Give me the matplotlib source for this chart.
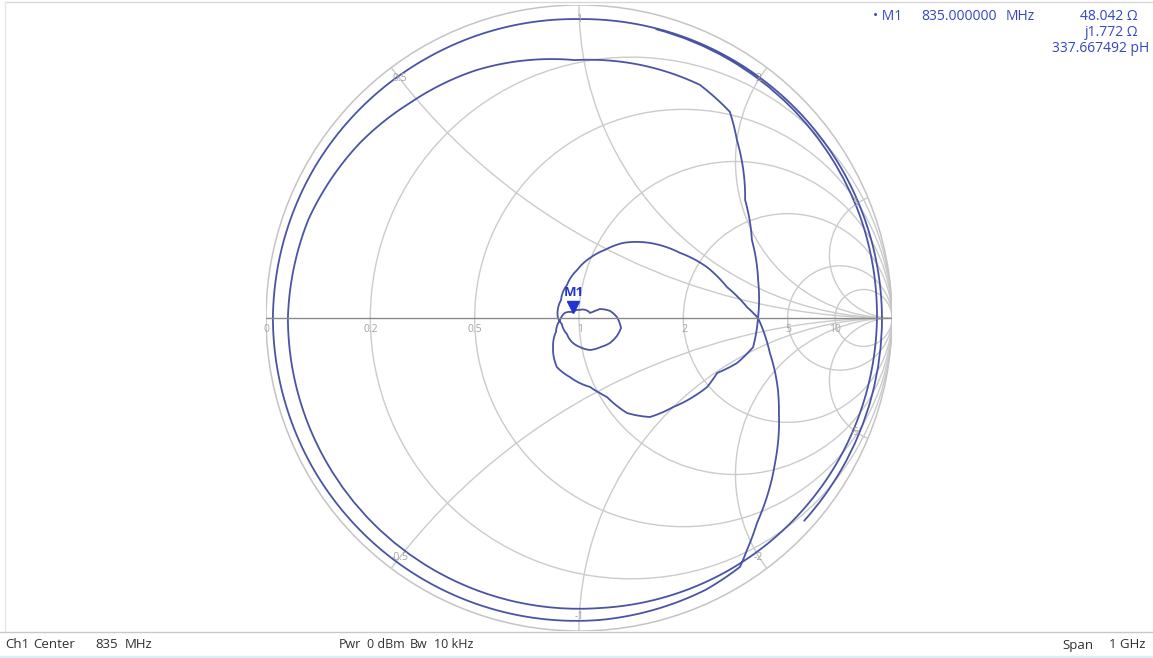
import numpy as np
import matplotlib
matplotlib.use("Agg")
import matplotlib.pyplot as plt
from matplotlib.patches import Circle, PathPatch
from matplotlib.path import Path
from matplotlib.transforms import ScaledTranslation
from matplotlib.projections.polar import PolarTransform

# ---- S11 trace, polar format (|Gamma|, phase in degrees), 335 MHz .. 1335 MHz ----
trace_mag = [
    0.955, 0.955, 0.955, 0.952, 0.945, 0.937, 0.929, 0.929, 0.929, 0.930,
    0.920, 0.896, 0.874, 0.857, 0.824, 0.832, 0.839, 0.816, 0.760, 0.651,
    0.606, 0.585, 0.572,
    0.564, 0.525, 0.475, 0.465, 0.443, 0.414, 0.389, 0.340, 0.268, 0.249,
    0.223, 0.191, 0.172, 0.124, 0.086, 0.061,
    0.048, 0.027, 0.026, 0.039, 0.073, 0.102, 0.121, 0.138, 0.134, 0.127,
    0.116, 0.108, 0.093, 0.080, 0.064, 0.058, 0.067,
    0.074, 0.081, 0.112, 0.153, 0.195, 0.233, 0.278, 0.330, 0.384, 0.440,
    0.483, 0.538, 0.572,
    0.620, 0.676, 0.707, 0.779, 0.829, 0.867, 0.915, 0.947,
    0.958, 0.967, 0.972, 0.976, 0.978, 0.972, 0.962, 0.955, 0.960, 0.965,
    0.968, 0.968, 0.968,
]
trace_phase = [
    75.0, 45.0, 20.0, 0.0, -30.0, -60.0, -86.0, -120.0, -150.0, 180.0,
    160.0, 141.4, 128.2, 112.4, 90.9, 76.4, 62.6, 53.8, 48.4, 35.4,
    24.3, 12.0, 0.0,
    -9.5, -15.9, -21.7, -28.3, -34.7, -43.4, -54.4, -63.2, -70.5, -74.4,
    -80.9, -98.7, -114.2, -131.9, -148.7, -174.0,
    160.3, 137.0, 82.9, 24.4, 23.2, 12.7, 1.5, -13.4, -25.3, -38.9,
    -52.8, -71.0, -88.0, -106.3, -126.9, -160.6, 180.0,
    154.5, 135.0, 110.0, 92.4, 79.6, 69.1, 59.6, 46.6, 32.8, 21.7,
    11.8, 3.7, 0.0,
    -10.4, -19.9, -25.4, -36.5, -43.6, -49.0, -54.1, -57.1,
    -65.0, -86.0, -120.0, -150.0, 180.0, 150.0, 120.0, 90.0, 60.0, 30.0,
    0.0, -30.0, -42.0,
]

# Smith grid values
resistances = [0.2, 0.5, 1, 2, 5, 10]
reactances = [0.5, 1, 2, 5]
r_labels = ["0", "0.2", "0.5", "1", "2", "5", "10"]
x_labels = ["0.5", "1", "2", "5"]

# Marker readout
z0 = 50.0
m1_freq = "835.000000"
m1_res = 48.042
m1_react = 1.772
m1_ind = "337.667492"

# status bar
center_freq = "835"
power = "0 dBm"
bandwidth = "10 kHz"
span = "1 GHz"

TRACE = "#4a54a4"
GRID = "#cbcbcb"
GRID_TXT = "#a5a5a5"
BLUE_TXT = "#3446c0"
MARK = "#2233d0"
plt.rcParams["font.family"] = ["Open Sans", "DejaVu Sans"]

W, H = 1153, 658
fig = plt.figure(figsize=(W / 100, H / 100), dpi=100)
fig.patch.set_facecolor("white")

# pixel-space layer for frame and status text
bg = fig.add_axes([0, 0, 1, 1])
bg.set_xlim(0, W)
bg.set_ylim(H, 0)
bg.axis("off")
bg.plot([5, W], [1.5, 1.5], color="#d8d8d8", lw=1.0)
bg.plot([5, 5], [1.5, 632], color="#e6e6e6", lw=1.0)
bg.plot([0, W], [632, 632], color="#c8c8c8", lw=1.0)
bg.plot([0, W], [656.5, 656.5], color="#d6f2f8", lw=2.5)

st = dict(fontsize=9.5, color="#303030", va="center", ha="left")
sm = dict(fontsize=9, color="#303030", va="center", ha="left")
bg.text(5, 645, "Ch1", **st)
bg.text(33, 645, "Center", **st)
bg.text(95, 645, center_freq, **st)
bg.text(125, 645, "MHz", **st)
bg.text(339, 645, "Pwr", **sm)
bg.text(367, 645, power, **sm)
bg.text(410, 645, "Bw", **sm)
bg.text(434, 645, bandwidth, **sm)
bg.text(1062, 645, "Span", **st)
bg.text(1109, 645, span, **st)

mt = dict(fontsize=10, color=BLUE_TXT, va="center")
bg.text(873, 16, "\u2022 M1", ha="left", **mt)
bg.text(921, 16, m1_freq, ha="left", **mt)
bg.text(1006, 16, "MHz", ha="left", **mt)
bg.text(1138, 16, f"{m1_res:.3f} \u03a9", ha="right", **mt)
bg.text(1138, 32, f"j{m1_react:.3f} \u03a9", ha="right", **mt)
bg.text(1149, 49, f"{m1_ind} pH", ha="right", **mt)

# Smith chart axes, Gamma plane
cx, cy, R = 579, 318, 313
ax = fig.add_axes([(cx - R) / W, (H - (cy + R)) / H, 2 * R / W, 2 * R / H])
ax.axis("off")

unit = Circle((0, 0), 1, transform=ax.transData)
for r in resistances:
    ax.add_patch(Circle((r / (1 + r), 0), 1 / (1 + r), fill=False,
                        ec=GRID, lw=1.0))
for x in reactances:
    for s in (1, -1):
        c = Circle((1, s / x), 1 / x, fill=False, ec=GRID, lw=1.0)
        ax.add_patch(c)
        c.set_clip_path(unit)
ax.add_patch(Circle((0, 0), 1, fill=False, ec="#c4c4c4", lw=1.1))
ax.plot([-1, 1], [0, 0], color="#8a8a8a", lw=1.0)

# resistance labels along the real axis
r_vals = [0.0] + resistances
r_dx = [0, 0, 0, 1, 1, 1, 0]
for lab, r, dx in zip(r_labels, r_vals, r_dx):
    g = (r - 1) / (r + 1)
    ax.annotate(lab, (g, 0), xytext=(dx, -12), textcoords="offset pixels",
                ha="center", va="center", fontsize=7.5, color=GRID_TXT)

# reactance labels just inside the rim
for lab in x_labels:
    x = float(lab)
    for s in (1, -1):
        g = (1j * s * x - 1) / (1j * s * x + 1)
        ang = np.angle(g)
        rr = 0.955
        txt = lab if s > 0 else "-" + lab
        ax.text(rr * np.cos(ang), rr * np.sin(ang), txt, ha="center",
                va="center", fontsize=7.5, color=GRID_TXT)

# measured trace, drawn in polar form so segments follow the rotation
theta = np.deg2rad(np.unwrap(np.asarray(trace_phase), period=360))
verts = np.column_stack([theta, np.asarray(trace_mag)])
codes = [Path.MOVETO] + [Path.LINETO] * (len(verts) - 1)
tpath = Path(verts, codes, _interpolation_steps=24)
try:
    ptrans = PolarTransform(apply_theta_transforms=False)
except TypeError:
    ptrans = PolarTransform()
ax.add_patch(PathPatch(tpath, transform=ptrans + ax.transData, fill=False,
                       ec=TRACE, lw=1.3, joinstyle="round", capstyle="round"))

# marker M1 from its impedance reading
zm = complex(m1_res, m1_react) / z0
gm = (zm - 1) / (zm + 1)
ax.plot([gm.real], [gm.imag], marker="v", ms=9, color=MARK,
        transform=ax.transData + ScaledTranslation(0, 5.5 / 100,
                                                   fig.dpi_scale_trans))
ax.annotate("M1", (gm.real, gm.imag), xytext=(1, 20),
            textcoords="offset pixels", ha="center", va="center",
            fontsize=9.5, fontweight="bold", color=MARK)

ax.set_xlim(-1, 1)
ax.set_ylim(-1, 1)

fig.savefig("out.png", dpi=100, facecolor="white")
